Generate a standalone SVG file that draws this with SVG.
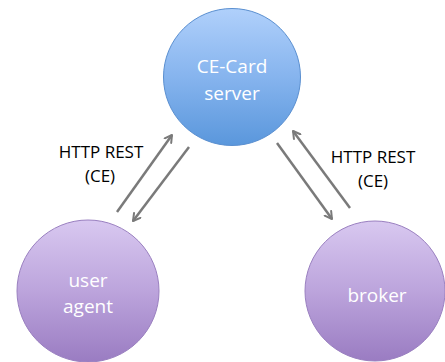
<svg xmlns="http://www.w3.org/2000/svg" width="445" height="362" viewBox="0 0 445 362">
<defs>
<linearGradient id="blue" x1="0" y1="0" x2="0" y2="1">
<stop offset="0" stop-color="#b0d0fb"/>
<stop offset="0.5" stop-color="#86b4ee"/>
<stop offset="1" stop-color="#5a97dc"/>
</linearGradient>
<linearGradient id="purple" x1="0" y1="0" x2="0" y2="1">
<stop offset="0" stop-color="#d8c8f0"/>
<stop offset="0.5" stop-color="#bca4dc"/>
<stop offset="1" stop-color="#9a7cc2"/>
</linearGradient>
<marker id="arr" viewBox="0 0 10 10" refX="8" refY="5" markerWidth="4" markerHeight="4" orient="auto" markerUnits="strokeWidth">
<path d="M1,1 L8,5 L1,9" fill="none" stroke="#7a7a7a" stroke-width="2" stroke-linecap="round" stroke-linejoin="round"/>
</marker>
</defs>
<style>
.blue{fill:url(#blue);stroke:#5a8fd0;stroke-width:1}
.purple{fill:url(#purple);stroke:#9a80c0;stroke-width:1}
.ntext{font-family:"Open Sans","Liberation Sans",sans-serif;font-size:19px;fill:#ffffff;text-anchor:middle}
.label{font-family:"Open Sans","Liberation Sans",sans-serif;font-size:17px;fill:#000000;text-anchor:middle}
.conn{stroke:#7a7a7a;stroke-width:2.5;fill:none;marker-end:url(#arr)}
</style>
<g id="server">
<circle class="blue" cx="232" cy="77" r="68.5"/>
<text class="ntext" x="232" y="73">CE-Card</text>
<text class="ntext" x="232" y="100">server</text>
</g>
<g id="useragent">
<circle class="purple" cx="88" cy="291" r="71"/>
<text class="ntext" x="88" y="287">user</text>
<text class="ntext" x="88" y="313">agent</text>
</g>
<g id="broker">
<circle class="purple" cx="375" cy="291" r="70"/>
<text class="ntext" x="377" y="302">broker</text>
</g>
<g id="connectors">
<line class="conn" x1="117" y1="212" x2="172" y2="135"/>
<line class="conn" x1="189" y1="147" x2="133" y2="221"/>
<line class="conn" x1="277" y1="143" x2="332" y2="219"/>
<line class="conn" x1="350" y1="208" x2="293" y2="131"/>
</g>
<g id="labels">
<text class="label" x="101" y="158">HTTP REST</text>
<text class="label" x="100" y="182">(CE)</text>
<text class="label" x="373" y="163">HTTP REST</text>
<text class="label" x="373" y="187">(CE)</text>
</g>
</svg>
